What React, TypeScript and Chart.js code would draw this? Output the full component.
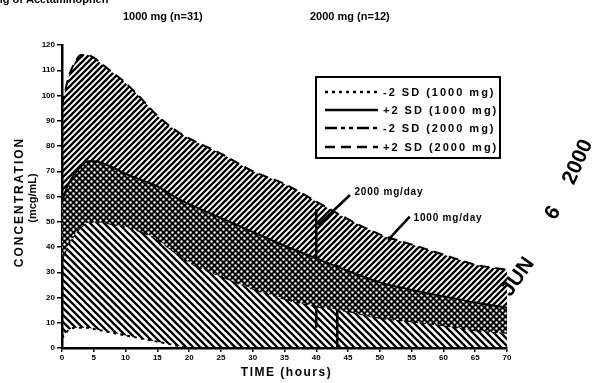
import React, { useEffect, useRef } from 'react';
import { Chart, registerables } from 'chart.js';

Chart.register(...registerables);

// ---- data ----
const times = [0, 1, 2, 3, 4, 5, 6, 8, 10, 12, 15, 18, 20, 25, 30, 35, 40, 45, 50, 55, 60, 65, 70];
const plus2sd2000 = [96, 107, 113, 116, 116, 115, 113, 109, 105, 100, 92, 86, 83, 77, 70, 65, 58, 51, 45, 41, 37, 33, 31];
const plus2sd1000 = [58, 65, 69, 72, 74, 74, 73.5, 71.5, 69, 67, 64, 59.5, 57, 51.5, 46, 40.5, 35.5, 30.5, 26, 23, 20.5, 18, 16];
const minus2sd2000 = [35, 41, 45, 48, 49.5, 50, 50, 49, 48, 46.5, 43, 37.5, 34, 28.5, 23.5, 19.5, 16.5, 14.5, 12, 10.5, 9, 7, 6];
const minus2sd1000 = [4, 7, 8, 8, 8, 7.5, 7, 6, 5, 4, 2.5, 1, 0, 0, 0, 0, 0, 0, 0, 0, 0, 0, 0];

const legendLabels = ['-2 SD (1000 mg)', '+2 SD (1000 mg)', '-2 SD (2000 mg)', '+2 SD (2000 mg)'];
const headerLabels = ['1000 mg (n=31)', '2000 mg (n=12)'];
const topNote = 'ng of Acetaminophen';
const xTitle = 'TIME (hours)';
const yTitle = ['CONCENTRATION', '(mcg/mL)'];
const xTicks = [0, 5, 10, 15, 20, 25, 30, 35, 40, 45, 50, 55, 60, 65, 70];
const yTicks = [0, 10, 20, 30, 40, 50, 60, 70, 80, 90, 100, 110, 120];

// marker lines (time, concentration)
const markerTimes = [40, 43.3];
const markerTops = [55, 33];
const markerBottoms = [8, 0];
const pointerFromT = [45.3, 54.7];
const pointerFromV = [60.6, 52];
const pointerToT = [40.3, 51.3];
const pointerToV = [48.7, 42.8];
const markerLabels = ['2000 mg/day', '1000 mg/day'];
const labelT = [46.0, 55.3];
const labelV = [61.8, 51.2];

const stampTexts = ['JUN', '6', '2000'];

const FONT = '"Liberation Sans", Arial, Helvetica, sans-serif';

const DASH_M1000 = [3, 4];
const DASH_P1000: number[] = [];
const DASH_M2000 = [12, 4, 4, 4, 4, 4];
const DASH_P2000 = [10, 6];

function makeSlash(size: number, lw: number, back: boolean) {
  const c = document.createElement('canvas');
  c.width = size;
  c.height = size;
  const g = c.getContext('2d')!;
  g.strokeStyle = '#000';
  g.lineWidth = lw;
  g.beginPath();
  if (!back) {
    g.moveTo(0, size); g.lineTo(size, 0);
    g.moveTo(-1, 1); g.lineTo(1, -1);
    g.moveTo(size - 1, size + 1); g.lineTo(size + 1, size - 1);
  } else {
    g.moveTo(0, 0); g.lineTo(size, size);
    g.moveTo(-1, size - 1); g.lineTo(1, size + 1);
    g.moveTo(size - 1, -1); g.lineTo(size + 1, 1);
  }
  g.stroke();
  return g.createPattern(c, 'repeat')!;
}

function makeDots(size: number, r: number) {
  const c = document.createElement('canvas');
  c.width = size;
  c.height = size;
  const g = c.getContext('2d')!;
  g.fillStyle = '#000';
  g.fillRect(0, 0, size, size);
  g.fillStyle = '#fff';
  g.beginPath();
  g.arc(size / 4, size / 4, r, 0, Math.PI * 2);
  g.arc((3 * size) / 4, (3 * size) / 4, r, 0, Math.PI * 2);
  g.fill();
  return g.createPattern(c, 'repeat')!;
}

const pts = (ys: number[]) => times.map((t, i) => ({ x: t, y: ys[i] }));

const textPlugin = {
  id: 'figureTexts',
  afterDraw(chart: any) {
    const { ctx, scales } = chart;
    const x = scales.x;
    const y = scales.y;
    ctx.save();
    ctx.fillStyle = '#000';
    ctx.strokeStyle = '#000';

    // cut-off note at very top
    ctx.font = `bold 11px ${FONT}`;
    ctx.textAlign = 'left';
    ctx.textBaseline = 'alphabetic';
    ctx.fillText(topNote, -4, 3);

    // group headers
    ctx.textBaseline = 'middle';
    ctx.font = `bold 11px ${FONT}`;
    ctx.fillText(headerLabels[0], 123, 17);
    ctx.fillText(headerLabels[1], 310, 17);

    // x title
    ctx.font = `bold 12px ${FONT}`;
    (ctx as any).letterSpacing = '1.5px';
    ctx.textAlign = 'center';
    ctx.fillText(xTitle, (x.left + x.right) / 2 + 2, 373);

    // y title
    ctx.save();
    ctx.translate(20, 202);
    ctx.rotate(-Math.PI / 2);
    (ctx as any).letterSpacing = '2px';
    ctx.font = `bold 12px ${FONT}`;
    ctx.fillText(yTitle[0], 0, 0);
    ctx.restore();
    ctx.save();
    ctx.translate(33, 198);
    ctx.rotate(-Math.PI / 2);
    (ctx as any).letterSpacing = '0px';
    ctx.font = `bold 11px ${FONT}`;
    ctx.fillText(yTitle[1], 0, 0);
    ctx.restore();
    (ctx as any).letterSpacing = '0px';

    // legend box
    const lx = 316, ly = 77, lw = 184, lh = 81;
    ctx.fillStyle = '#fff';
    ctx.fillRect(lx, ly, lw, lh);
    ctx.lineWidth = 2;
    ctx.setLineDash([]);
    ctx.strokeRect(lx, ly, lw, lh);
    const dashes = [DASH_M1000, DASH_P1000, DASH_M2000, DASH_P2000];
    const rowY = [92, 110, 128, 147];
    ctx.fillStyle = '#000';
    ctx.textAlign = 'left';
    ctx.textBaseline = 'middle';
    ctx.font = `bold 11px ${FONT}`;
    legendLabels.forEach((lab, i) => {
      ctx.beginPath();
      ctx.setLineDash(dashes[i]);
      ctx.lineWidth = 2.5;
      ctx.moveTo(325, rowY[i]);
      ctx.lineTo(378, rowY[i]);
      ctx.stroke();
      ctx.setLineDash([]);
      (ctx as any).letterSpacing = '2px';
      ctx.fillText(lab, 383, rowY[i] + 1);
      (ctx as any).letterSpacing = '0px';
    });

    // marker labels
    ctx.font = `bold 10px ${FONT}`;
    ctx.textBaseline = 'middle';
    ctx.textAlign = 'left';
    markerLabels.forEach((lab, i) => {
      (ctx as any).letterSpacing = '0.8px';
      ctx.fillText(lab, x.getPixelForValue(labelT[i]), y.getPixelForValue(labelV[i]));
    });
    (ctx as any).letterSpacing = '0px';

    // date stamp (scan artefact)
    ctx.font = `bold 21px ${FONT}`;
    ctx.textAlign = 'center';
    ctx.textBaseline = 'middle';
    const stampPos = [
      [518, 277, -0.95],
      [553, 213, -1.0],
      [578, 162, -1.15],
    ];
    stampTexts.forEach((s, i) => {
      ctx.save();
      ctx.translate(stampPos[i][0], stampPos[i][1]);
      ctx.rotate(stampPos[i][2]);
      ctx.fillText(s, 0, 0);
      ctx.restore();
    });

    ctx.restore();
  },
};

export default function App() {
  const ref = useRef<HTMLCanvasElement>(null);
  useEffect(() => {
    const canvas = ref.current!;
    const slash = makeSlash(6, 2.3, false);
    const back = makeSlash(7, 2.3, true);
    const dots = makeDots(6, 1.25);

    const lineBase = {
      borderColor: '#000',
      pointRadius: 0,
      cubicInterpolationMode: 'monotone' as const,
    };

    const datasets: any[] = [
      { ...lineBase, label: legendLabels[3], data: pts(plus2sd2000), borderWidth: 2, borderDash: DASH_P2000, fill: '+1', backgroundColor: slash },
      { ...lineBase, label: legendLabels[1], data: pts(plus2sd1000), borderWidth: 2, borderDash: DASH_P1000, fill: '+1', backgroundColor: dots },
      { ...lineBase, label: legendLabels[2], data: pts(minus2sd2000), borderWidth: 2, borderDash: DASH_M2000, fill: '+1', backgroundColor: back },
      { ...lineBase, label: legendLabels[0], data: pts(minus2sd1000), borderWidth: 2, borderDash: DASH_M1000, fill: false },
    ];
    markerTimes.forEach((t, i) => {
      datasets.push({
        ...lineBase,
        label: markerLabels[i] + ' marker',
        data: [{ x: t, y: markerTops[i] }, { x: t, y: markerBottoms[i] }],
        borderWidth: 2.5,
        fill: false,
        cubicInterpolationMode: 'default',
      });
      datasets.push({
        ...lineBase,
        label: markerLabels[i] + ' pointer',
        data: [{ x: pointerFromT[i], y: pointerFromV[i] }, { x: pointerToT[i], y: pointerToV[i] }],
        borderWidth: 2.5,
        fill: false,
        cubicInterpolationMode: 'default',
      });
    });

    const chart = new Chart(canvas, {
      type: 'line',
      data: { datasets },
      options: {
        animation: false,
        responsive: false,
        devicePixelRatio: 1,
        layout: { padding: { left: 0, top: 45, right: 87, bottom: 0 } },
        plugins: { legend: { display: false }, tooltip: { enabled: false } },
        scales: {
          x: {
            type: 'linear',
            min: 0,
            max: 70,
            afterFit: (s: any) => { s.height = 35; },
            afterBuildTicks: (s: any) => { s.ticks = xTicks.map((v) => ({ value: v })); },
            border: { display: true, color: '#000', width: 2.5 },
            grid: { drawOnChartArea: false, drawTicks: true, tickLength: 4, color: '#000', lineWidth: 1.5 },
            ticks: { color: '#000', padding: 1, maxRotation: 0, autoSkip: false, font: { family: FONT, size: 8, weight: 'bold' } },
          },
          y: {
            type: 'linear',
            min: 0,
            max: 120,
            afterFit: (s: any) => { s.width = 62; },
            afterBuildTicks: (s: any) => { s.ticks = yTicks.map((v) => ({ value: v })); },
            border: { display: true, color: '#000', width: 2.5 },
            grid: { drawOnChartArea: false, drawTicks: true, tickLength: 5, color: '#000', lineWidth: 1.5 },
            ticks: { color: '#000', padding: 2, autoSkip: false, font: { family: FONT, size: 8, weight: 'bold' } },
          },
        },
      } as any,
      plugins: [textPlugin],
    });
    return () => chart.destroy();
  }, []);

  return (
    <div style={{ position: 'fixed', left: 0, top: 0, width: 594, height: 383, background: '#fff' }}>
      <canvas ref={ref} width={594} height={383} style={{ display: 'block', width: 594, height: 383 }} />
    </div>
  );
}
